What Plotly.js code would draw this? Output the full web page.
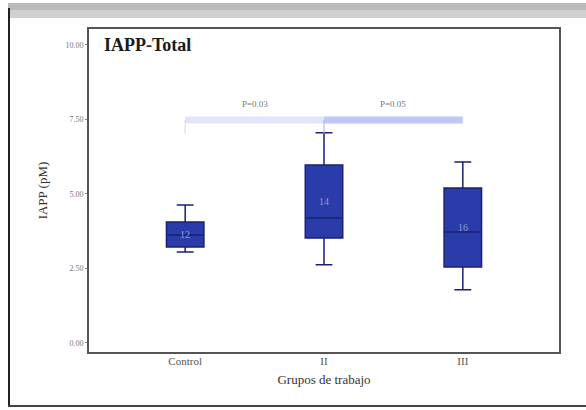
<!DOCTYPE html>
<html>
<head>
<meta charset="utf-8">
<script src="https://cdn.plot.ly/plotly-3.0.1.min.js"></script>
<style>
  html, body { margin: 0; padding: 0; background: #ffffff; }
  #chart { width: 586px; height: 410px; }
</style>
</head>
<body>
<div id="chart"></div>
<script>
// Groups and box summaries (IAPP, pM)
const groups = ["Control", "II", "III"];
const lowerWhisker = [3.05, 2.62, 1.78];
const q1Values = [3.22, 3.52, 2.55];
const medians = [3.62, 4.19, 3.72];
const q3Values = [4.06, 5.97, 5.20];
const upperWhisker = [4.63, 7.05, 6.07];
const sampleSizes = ["12", "14", "16"];

// Pairwise comparison brackets
const comparisonPairs = [[0, 1], [1, 2]];
const comparisonLabels = ["P=0.03", "P=0.05"];
const comparisonLevel = 7.48;

const yTicks = [0, 2.5, 5, 7.5, 10];
const yTickText = ["0.00", "2.50", "5.00", "7.50", "10.00"];

const boxTrace = {
  type: "box",
  x: groups,
  q1: q1Values,
  median: medians,
  q3: q3Values,
  lowerfence: lowerWhisker,
  upperfence: upperWhisker,
  fillcolor: "#2a3caa",
  line: { color: "#1b2170", width: 1.5 },
  whiskerwidth: 0.45,
  width: 0.27,
  boxpoints: false,
  hoverinfo: "skip",
  showlegend: false
};

const shapes = [];
const annotations = [];

// count labels inside boxes
groups.forEach((g, i) => {
  annotations.push({
    x: g, y: (q1Values[i] + q3Values[i]) / 2, xref: "x", yref: "y",
    text: sampleSizes[i], showarrow: false,
    font: { family: "Liberation Serif, serif", size: 10, color: "#8f9bd6" }
  });
});

// significance brackets
const bracketColors = ["rgba(200,206,245,0.55)", "rgba(170,182,245,0.75)"];
comparisonPairs.forEach((p, i) => {
  shapes.push({
    type: "rect", xref: "x", yref: "y",
    x0: p[0], x1: p[1], y0: comparisonLevel - 0.12, y1: comparisonLevel + 0.12,
    fillcolor: bracketColors[i], line: { width: 0 }, layer: "below"
  });
  shapes.push({
    type: "line", xref: "x", yref: "y",
    x0: p[0], x1: p[0], y0: comparisonLevel - 0.45, y1: comparisonLevel,
    line: { color: bracketColors[i], width: 1.5 }
  });
  annotations.push({
    x: (p[0] + p[1]) / 2, y: comparisonLevel + 0.55, xref: "x", yref: "y",
    text: comparisonLabels[i], showarrow: false,
    font: { family: "Liberation Serif, serif", size: 9, color: "#777777" }
  });
});

// chart title inside the frame
annotations.push({
  x: 0.03, y: 0.985, xref: "paper", yref: "paper", xanchor: "left", yanchor: "top",
  text: "<b>IAPP-Total</b>", showarrow: false,
  font: { family: "Liberation Serif, serif", size: 18, color: "#1a1a1a" }
});

// plot frame
shapes.push({
  type: "rect", xref: "paper", yref: "paper", x0: 0, x1: 1, y0: 0, y1: 1,
  line: { color: "#555555", width: 2 }, layer: "above"
});

// outer figure border: grey band on top, black rules left and bottom
const W = 472, H = 325, L = 88, B = 353;
const px = v => (v - L) / W;
const py = v => (B - v) / H;
shapes.push({
  type: "rect", xref: "paper", yref: "paper",
  x0: px(8), x1: px(586), y0: py(18), y1: py(3),
  fillcolor: "#d0d0d0", line: { width: 0 }
});
shapes.push({
  type: "rect", xref: "paper", yref: "paper",
  x0: px(8), x1: px(586), y0: py(10), y1: py(3),
  fillcolor: "#bababa", line: { width: 0 }
});
shapes.push({
  type: "line", xref: "paper", yref: "paper",
  x0: px(9), x1: px(9), y0: py(407), y1: py(8),
  line: { color: "#222222", width: 2 }
});
shapes.push({
  type: "line", xref: "paper", yref: "paper",
  x0: px(8), x1: px(586), y0: py(406), y1: py(406),
  line: { color: "#444444", width: 2 }
});

const layout = {
  width: 586, height: 410,
  margin: { l: 88, r: 26, t: 28, b: 57 },
  paper_bgcolor: "#ffffff",
  plot_bgcolor: "#ffffff",
  font: { family: "Liberation Serif, serif", color: "#555555" },
  xaxis: {
    type: "category",
    range: [-0.7, 2.7],
    showgrid: false, zeroline: false, showline: false,
    ticks: "", tickfont: { size: 11, color: "#555555" },
    title: { text: "Grupos de trabajo", font: { size: 13, color: "#333333" }, standoff: 8 }
  },
  yaxis: {
    range: [-0.34, 10.57],
    tickvals: yTicks, ticktext: yTickText,
    showgrid: false, zeroline: false, showline: false,
    ticks: "outside", ticklen: 2, tickcolor: "#888888",
    tickfont: { size: 8, color: "#777777" },
    title: { text: "IAPP (pM)", font: { size: 13, color: "#333333" }, standoff: 14 }
  },
  shapes: shapes,
  annotations: annotations
};

Plotly.newPlot("chart", [boxTrace], layout, { staticPlot: true, displayModeBar: false });
</script>
</body>
</html>
